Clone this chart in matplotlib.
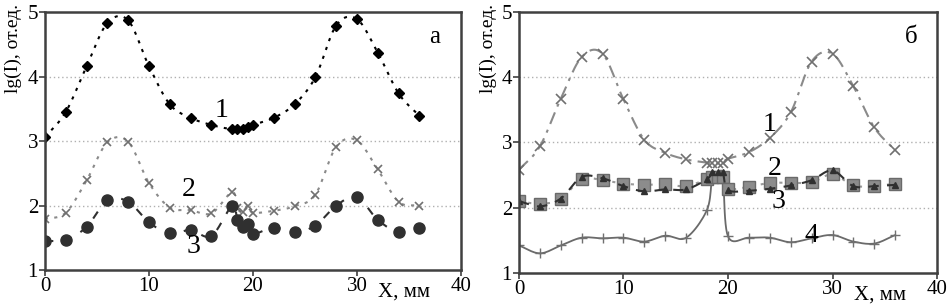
import numpy as np
import matplotlib.pyplot as plt

plt.rcParams['font.family'] = ['Liberation Serif', 'DejaVu Serif']

# x positions, mm (same for all series)
xPos = [0, 2, 4, 6, 8, 10, 12, 14, 16, 18, 18.5, 19, 19.5, 20,
        22, 24, 26, 28, 30, 32, 34, 36]

# panel a
a1 = [3.06, 3.45, 4.16, 4.83, 4.87, 4.16, 3.57, 3.36, 3.25, 3.18, 3.18, 3.19, 3.22, 3.25,
      3.36, 3.57, 3.99, 4.79, 4.89, 4.37, 3.74, 3.39]
a2 = [1.79, 1.89, 2.39, 2.98, 2.99, 2.35, 1.97, 1.93, 1.88, 2.21, 1.96, 1.90, 2.00, 1.89,
      1.92, 1.99, 2.17, 2.91, 3.01, 2.56, 2.06, 2.00]
a3 = [1.45, 1.47, 1.67, 2.08, 2.06, 1.74, 1.57, 1.62, 1.53, 2.00, 1.78, 1.67, 1.72, 1.56,
      1.66, 1.59, 1.69, 2.00, 2.13, 1.78, 1.59, 1.66]

# panel б
b1 = [2.58, 2.94, 3.67, 4.31, 4.36, 3.66, 3.04, 2.84, 2.74, 2.69, 2.68, 2.68, 2.69, 2.75,
      2.85, 3.07, 3.46, 4.24, 4.36, 3.86, 3.23, 2.88]
b2 = [2.10, 2.06, 2.13, 2.44, 2.42, 2.37, 2.35, 2.36, 2.33, 2.44, 2.47, 2.47, 2.47, 2.29,
      2.32, 2.38, 2.38, 2.39, 2.51, 2.34, 2.33, 2.37]
b3 = [2.10, 2.02, 2.14, 2.47, 2.45, 2.33, 2.25, 2.28, 2.28, 2.44, 2.54, 2.54, 2.54, 2.27,
      2.26, 2.29, 2.34, 2.42, 2.57, 2.33, 2.33, 2.35]
b4 = [1.42, 1.30, 1.42, 1.54, 1.53, 1.54, 1.48, 1.57, 1.54, 1.97, 2.48, 2.50, 2.50, 1.56,
      1.54, 1.54, 1.47, 1.53, 1.58, 1.48, 1.45, 1.58]


def smooth(x, y, n=12):
    # catmull-rom curve through the points, like excel's smoothed line
    x = np.asarray(x, float)
    y = np.asarray(y, float)
    px = np.concatenate([[2 * x[0] - x[1]], x, [2 * x[-1] - x[-2]]])
    py = np.concatenate([[2 * y[0] - y[1]], y, [2 * y[-1] - y[-2]]])
    t = np.linspace(0, 1, n, endpoint=False)
    xs, ys = [], []
    for i in range(1, len(px) - 2):
        for p, out in ((px, xs), (py, ys)):
            p0, p1, p2, p3 = p[i - 1], p[i], p[i + 1], p[i + 2]
            out.extend(0.5 * (2 * p1 + (-p0 + p2) * t + (2 * p0 - 5 * p1 + 4 * p2 - p3) * t ** 2
                              + (-p0 + 3 * p1 - 3 * p2 + p3) * t ** 3))
    xs.append(x[-1])
    ys.append(y[-1])
    return xs, ys


def series(ax, y, color, ls, lw, marker, ms, mfc=None, mec=None, mew=1.0):
    sx, sy = smooth(xPos, y)
    ax.plot(sx, sy, color=color, ls=ls, lw=lw)
    ax.plot(xPos, y, ls='none', marker=marker, ms=ms, color=mfc or color,
            mec=mec or mfc or color, mew=mew)


def setup(ax, letter, labelX):
    ax.set_xlim(0, 40)
    ax.set_ylim(1, 5)
    ax.set_xticks([0, 10, 20, 30, 40])
    ax.set_yticks([1, 2, 3, 4, 5])
    for y in [2, 3, 4]:
        ax.axhline(y, color='#b0b0b0', ls=(0, (1, 2)), lw=1.0, zorder=0)
    for s in ax.spines.values():
        s.set_color('#404040')
        s.set_linewidth(1.8)
    ax.tick_params(labelsize=15, length=4, width=1.2, color='#404040', pad=1)
    ax.set_ylabel('lg(I), от.ед.', fontsize=14, loc='top')
    ax.yaxis.set_label_coords(labelX, 1.03)
    ax.text(34.5, 0.66, 'X, мм', fontsize=15, ha='center', va='center', clip_on=False)
    ax.text(37.5, 4.62, letter, fontsize=18, ha='center', va='center')


fig = plt.figure(figsize=(9.51, 3.08), dpi=100)
axA = fig.add_axes([0.0473, 0.123, 0.4374, 0.838])
axB = fig.add_axes([0.5457, 0.114, 0.4396, 0.847])

series(axA, a1, 'black', (0, (1.5, 3)), 1.5, 'D', 5)
series(axA, a2, '#8a8a8a', (0, (1.5, 3)), 1.5, 'x', 6, mfc='#707070', mew=1.2)
series(axA, a3, '#303030', (0, (4, 5)), 1.5, 'o', 8)
setup(axA, 'а', -0.055)
axA.text(17, 3.48, '1', fontsize=20, ha='center', va='center')
axA.text(13.8, 2.25, '2', fontsize=20, ha='center', va='center')
axA.text(14.3, 1.36, '3', fontsize=20, ha='center', va='center')

series(axB, b1, '#8a8a8a', (0, (6, 3, 1.5, 3)), 1.5, 'x', 7, mfc='#707070', mew=1.2)
series(axB, b4, '#6a6a6a', '-', 1.3, '+', 7, mfc='#707070', mew=1.0)
series(axB, b2, '#9a9a9a', (0, (1.5, 3)), 1.5, 's', 8, mfc='#8c8c8c', mec='#6a6a6a')
series(axB, b3, '#303030', (0, (5, 4)), 1.5, '^', 5, mfc='#303030')
setup(axB, 'б', -0.053)
axB.text(24, 3.27, '1', fontsize=20, ha='center', va='center')
axB.text(24.5, 2.6, '2', fontsize=20, ha='center', va='center')
axB.text(24.8, 2.1, '3', fontsize=20, ha='center', va='center')
axB.text(28, 1.58, '4', fontsize=20, ha='center', va='center')

fig.savefig('out.png', dpi=100)
